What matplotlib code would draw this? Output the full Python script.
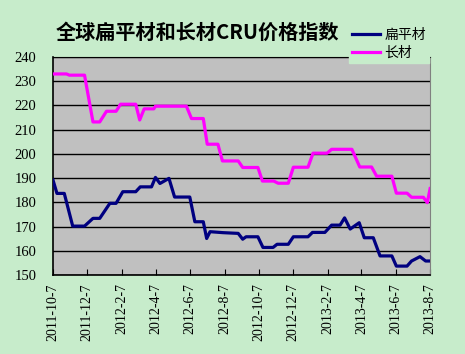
import matplotlib
matplotlib.use("Agg")
import matplotlib.pyplot as plt
import pandas as pd

plt.rcParams['font.family'] = ['Noto Sans CJK SC', 'DejaVu Sans']

# 扁平材 (flat products) - vertices
flat_dates = ['2011-10-07', '2011-10-14', '2011-10-27', '2011-11-11', '2011-12-02',
              '2011-12-17', '2011-12-29', '2012-01-16', '2012-01-27', '2012-02-08',
              '2012-03-02', '2012-03-10', '2012-03-30', '2012-04-06', '2012-04-14',
              '2012-04-30', '2012-05-10', '2012-06-06', '2012-06-15', '2012-06-30',
              '2012-07-06', '2012-07-12', '2012-08-04', '2012-08-31', '2012-09-08',
              '2012-09-14', '2012-10-05', '2012-10-14', '2012-11-01', '2012-11-08',
              '2012-11-28', '2012-12-07', '2013-01-02', '2013-01-10', '2013-02-01',
              '2013-02-13', '2013-02-28', '2013-03-08', '2013-03-18', '2013-04-03',
              '2013-04-12', '2013-04-28', '2013-05-10', '2013-05-31', '2013-06-08',
              '2013-06-27', '2013-07-05', '2013-07-20', '2013-07-30', '2013-08-07']
flat_vals = [189.2, 183.7, 183.7, 170.2, 170.2,
             173.4, 173.4, 179.6, 179.6, 184.4,
             184.4, 186.4, 186.4, 190.3, 187.8,
             189.9, 182.2, 182.2, 172.0, 172.0,
             165.1, 167.9, 167.5, 167.2, 164.8,
             165.8, 165.8, 161.4, 161.4, 162.7,
             162.7, 165.8, 165.8, 167.6, 167.6,
             170.6, 170.6, 173.6, 169.0, 171.6,
             165.4, 165.4, 157.9, 157.9, 153.7,
             153.7, 155.8, 157.6, 155.8, 155.8]

# 长材 (long products)
long_dates = ['2011-10-07', '2011-10-31', '2011-11-05', '2011-12-02', '2011-12-17',
              '2011-12-29', '2012-01-10', '2012-01-27', '2012-02-04', '2012-03-02',
              '2012-03-09', '2012-03-17', '2012-04-03', '2012-04-06', '2012-05-31',
              '2012-06-09', '2012-06-30', '2012-07-07', '2012-07-26', '2012-08-03',
              '2012-08-31', '2012-09-08', '2012-10-05', '2012-10-13', '2012-11-02',
              '2012-11-10', '2012-11-28', '2012-12-07', '2013-01-02', '2013-01-11',
              '2013-02-05', '2013-02-13', '2013-03-21', '2013-04-04', '2013-04-25',
              '2013-05-04', '2013-05-31', '2013-06-08', '2013-06-27', '2013-07-05',
              '2013-07-26', '2013-08-02', '2013-08-07']
long_vals = [233.0, 233.0, 232.5, 232.5, 213.2,
             213.2, 217.6, 217.6, 220.5, 220.5,
             214.0, 218.6, 218.6, 219.7, 219.7,
             214.6, 214.6, 204.0, 204.0, 197.1,
             197.1, 194.4, 194.4, 188.8, 188.8,
             187.9, 187.9, 194.5, 194.5, 200.3,
             200.3, 201.9, 201.9, 194.6, 194.6,
             190.8, 190.8, 183.8, 183.8, 182.1,
             182.1, 179.9, 185.7]

tick_labels = ['2011-10-7', '2011-12-7', '2012-2-7', '2012-4-7', '2012-6-7', '2012-8-7',
               '2012-10-7', '2012-12-7', '2013-2-7', '2013-4-7', '2013-6-7', '2013-8-7']

bg = '#C7ECCB'
fig = plt.figure(figsize=(4.65, 3.54), dpi=100, facecolor=bg)
ax = fig.add_axes([0.114, 0.223, 0.811, 0.616])
ax.set_facecolor('#C0C0C0')

ax.plot(pd.to_datetime(flat_dates), flat_vals, color='#000080', lw=2.3, label='扁平材',
        solid_joinstyle='round', zorder=3)
ax.plot(pd.to_datetime(long_dates), long_vals, color='#FF00FF', lw=2.3, label='长材',
        solid_joinstyle='round', zorder=3)

ax.set_ylim(150, 240)
ax.set_yticks(range(150, 241, 10))
ax.yaxis.grid(True, color='black', lw=1.0)
ax.set_axisbelow(True)
ticks = pd.to_datetime(tick_labels, format='%Y-%m-%d')
ax.set_xlim(ticks[0], ticks[-1])
ax.set_xticks(ticks)
ax.set_xticklabels(tick_labels, rotation=90, family=['Liberation Serif'], fontsize=10)
for lab in ax.get_yticklabels():
    lab.set_family(['Liberation Serif'])
    lab.set_fontsize(10.5)

ax.tick_params(axis='x', direction='in', length=4, pad=6, color='black')
ax.tick_params(axis='y', length=0, pad=12)
for s in ['left', 'bottom']:
    ax.spines[s].set_color('black')
    ax.spines[s].set_linewidth(1.2)
ax.spines['top'].set_color('black')
ax.spines['right'].set_color('#808080')

fig.text(0.425, 0.908, '全球扁平材和长材CRU价格指数', ha='center', va='center',
         fontsize=14.5, fontweight='bold')

leg = fig.legend(loc='upper left', bbox_to_anchor=(0.735, 0.95), frameon=True,
                 fontsize=10, handlelength=2.0, handletextpad=0.3, labelspacing=0.25,
                 borderpad=0.25, fancybox=False)
leg.get_frame().set_facecolor(bg)
leg.get_frame().set_edgecolor(bg)
leg.get_frame().set_alpha(1)

fig.savefig('out.png', dpi=100, facecolor=bg)
